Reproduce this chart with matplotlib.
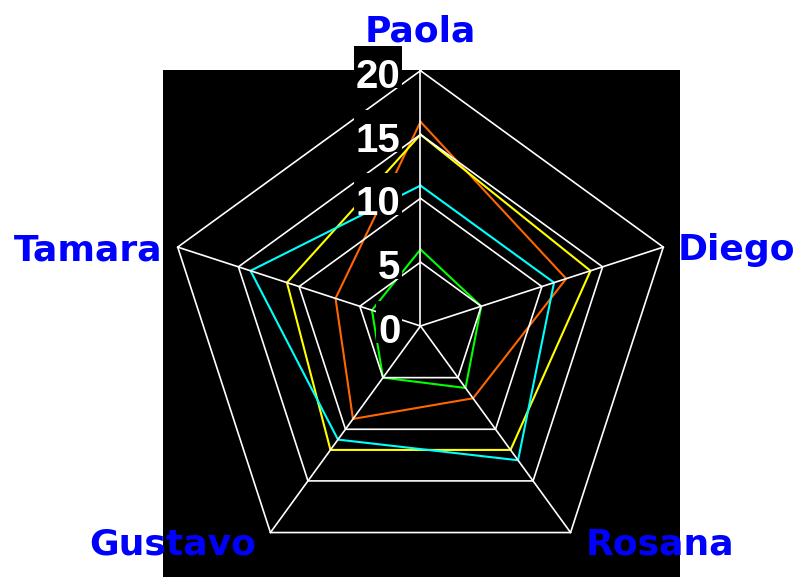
import numpy as np
import matplotlib
matplotlib.use('Agg')
import matplotlib.pyplot as plt
from matplotlib.patches import Rectangle

# ---------------------------------------------
# data
#
names = ['Paola', 'Diego', 'Rosana', 'Gustavo', 'Tamara']
orange = [16, 12, 7, 9, 7]
yellow = [15, 14, 12, 12, 11]
cyan = [11, 11, 13, 11, 14]
green = [6, 5, 6, 5, 4]
series = [orange, yellow, cyan, green]
colors = ['#FF6600', '#FFFF00', '#00FFFF', '#00FF00']
levels = [0, 5, 10, 15, 20]
#
# ---------------------------------------------
#
W, H = 795, 577
fig = plt.figure(figsize=(W / 100, H / 100), dpi=100)
fig.patch.set_facecolor('white')

# black plotting area, x 163..680 px, y 70..577 px (from top)
ax = fig.add_axes([163 / W, 0, 517 / W, 507 / H])
ax.set_facecolor('black')
for s in ax.spines.values():
    s.set_visible(False)
ax.set_xticks([])
ax.set_yticks([])

rmax = levels[-1]
px = 255.3 / rmax          # pixels per unit
cx, cy = 420.5, 326.0      # centre in pixels (from top)
ax.set_xlim(-(cx - 163) / px, (680 - cx) / px)
ax.set_ylim(-(577 - cy) / px, (cy - 70) / px)

n = len(names)
ang = np.radians(90 - 360 / n * np.arange(n))
ux, uy = np.cos(ang), np.sin(ang)


def closed(vals):
    v = np.asarray(vals, dtype=float)
    x = v * ux
    y = v * uy
    return np.append(x, x[0]), np.append(y, y[0])


# data polygons
for vals, c in zip(series, colors):
    x, y = closed(vals)
    ax.plot(x, y, color=c, lw=1.5, zorder=3, clip_on=False)

# grid rings and spokes
for lv in levels[1:]:
    x, y = closed([lv] * n)
    ax.plot(x, y, color='white', lw=1.2, zorder=4, clip_on=False)
for i in range(n):
    ax.plot([0, rmax * ux[i]], [0, rmax * uy[i]], color='white', lw=1.2,
            zorder=4, clip_on=False)

# tick labels on the top spoke, black box from baseline up
digit_w = 22.2   # px per digit
for lv in levels:
    s = str(lv)
    w = len(s) * digit_w + 4
    ax.add_patch(Rectangle((-(20 + w - 2) / px, lv - 17 / px), w / px, 42 / px,
                           facecolor='black', edgecolor='none', zorder=5,
                           clip_on=False))
    ax.annotate(s, xy=(0, lv), xycoords='data',
                xytext=(-20, -17), textcoords='offset pixels',
                ha='right', va='baseline', color='white',
                fontsize=29, fontweight='bold', family='Liberation Sans',
                zorder=6, annotation_clip=False)

# category labels
offs = [(0, 29, 'center'), (14, -13, 'left'), (15, -21.5, 'left'),
        (-14, -21.5, 'right'), (-15, -13, 'right')]
for i, name in enumerate(names):
    dx, dy, ha = offs[i]
    ax.annotate(name, xy=(rmax * ux[i], rmax * uy[i]), xycoords='data',
                xytext=(dx, dy), textcoords='offset pixels',
                ha=ha, va='baseline', color='#0000FF',
                fontsize=26, fontweight='bold', family='DejaVu Sans',
                zorder=7, annotation_clip=False)

fig.savefig('out.png', dpi=100, facecolor='white')
